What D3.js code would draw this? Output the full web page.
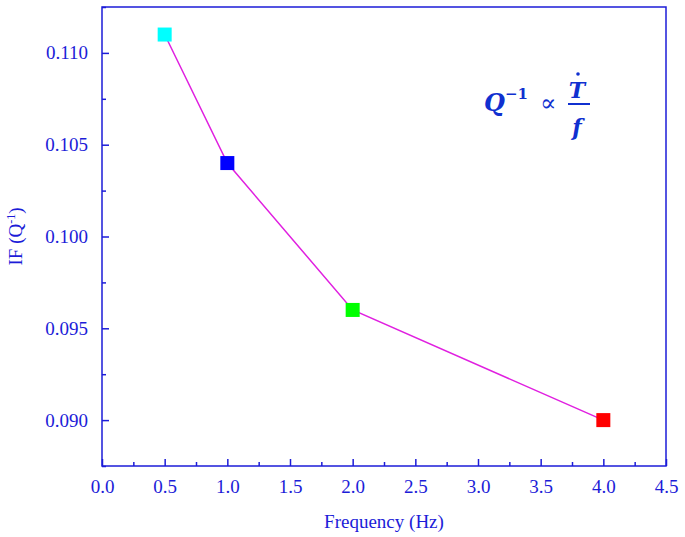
<!DOCTYPE html>
<html><head><meta charset="utf-8">
<script src="https://d3js.org/d3.v7.min.js"></script>
<style>body{margin:0;background:#fff}</style></head>
<body><script>
let freq = [0.5, 1.0, 2.0, 4.0];
let ifVals = [0.111, 0.104, 0.096, 0.090];
let colors = ["#00ffff", "#0000ff", "#00ff00", "#ff0000"];
let xTicks = [0, 0.5, 1, 1.5, 2, 2.5, 3, 3.5, 4, 4.5];
let yTicks = [0.090, 0.095, 0.100, 0.105, 0.110];

let w = 685, h = 537;
let padL = 102, padR = 666, padT = 7, padB = 466;
let blue = "#1c1cd8";
let font = "Liberation Serif, Times New Roman, serif";

let x = d3.scaleLinear().domain([0, 4.5]).range([padL, padR]);
let y = d3.scaleLinear().domain([0.0875, 0.1125]).range([padB, padT]);

let svg = d3.select("body").append("svg").attr("width", w).attr("height", h);

svg.append("rect").attr("x", padL).attr("y", padT)
  .attr("width", padR - padL).attr("height", padB - padT)
  .attr("fill", "none").attr("stroke", blue).attr("stroke-width", 1.5);

// x axis, ticks inward
let gx = svg.append("g").attr("transform", "translate(0," + padB + ")")
  .call(d3.axisBottom(x).tickValues(xTicks).tickFormat(d3.format(".1f")).tickSizeInner(-7).tickSizeOuter(0).tickPadding(14));
let gxm = svg.append("g").attr("transform", "translate(0," + padB + ")")
  .call(d3.axisBottom(x).tickValues(d3.range(0.25, 4.5, 0.5)).tickFormat("").tickSizeInner(-4).tickSizeOuter(0));

let gy = svg.append("g").attr("transform", "translate(" + padL + ",0)")
  .call(d3.axisLeft(y).tickValues(yTicks).tickFormat(d3.format(".3f")).tickSizeInner(-7).tickSizeOuter(0).tickPadding(14));
let gym = svg.append("g").attr("transform", "translate(" + padL + ",0)")
  .call(d3.axisLeft(y).tickValues(d3.range(0.0875, 0.1125, 0.005)).tickFormat("").tickSizeInner(-4).tickSizeOuter(0));

[gx, gxm, gy, gym].forEach(g => {
  g.select(".domain").remove();
  g.selectAll("line").attr("stroke", blue).attr("stroke-width", 1.5);
  g.selectAll("text").attr("fill", blue).style("font-family", font).style("font-size", "19px");
});

svg.append("text").attr("x", (padL + padR) / 2).attr("y", 528).attr("text-anchor", "middle")
  .attr("fill", blue).style("font-family", font).style("font-size", "19px").text("Frequency (Hz)");

let yl = svg.append("text").attr("transform", "translate(22," + (padT + padB) / 2 + ") rotate(-90)")
  .attr("text-anchor", "middle").attr("fill", blue).style("font-family", font).style("font-size", "19px");
yl.append("tspan").text("IF (Q");
yl.append("tspan").attr("dy", -7).style("font-size", "12px").text("-1");
yl.append("tspan").attr("dy", 7).text(")");

svg.append("path").datum(freq.map((f, i) => [f, ifVals[i]]))
  .attr("d", d3.line().x(d => x(d[0])).y(d => y(d[1])))
  .attr("fill", "none").attr("stroke", "#e020e0").attr("stroke-width", 1.5);

svg.selectAll(".pt").data(freq).enter().append("rect")
  .attr("x", d => x(d) - 7).attr("y", (d, i) => y(ifVals[i]) - 7)
  .attr("width", 14).attr("height", 14)
  .attr("fill", (d, i) => colors[i]);

// formula
let fx = svg.append("g").attr("fill", "#1030d0").style("font-family", "Cambria Math, DejaVu Serif, serif")
  .style("font-weight", "bold").style("font-style", "italic");
fx.append("text").attr("x", 484).attr("y", 111).style("font-size", "24px").text("Q");
fx.append("text").attr("x", 505).attr("y", 99).style("font-size", "15px").style("font-style", "normal").text("−1");
fx.append("text").attr("x", 540).attr("y", 111).style("font-size", "24px").style("font-style", "normal").style("font-weight", "normal").text("∝");
fx.append("text").attr("x", 577).attr("y", 98).attr("text-anchor", "middle").style("font-size", "22px").text("T");
fx.append("circle").attr("cx", 578).attr("cy", 74).attr("r", 1.8);
fx.append("line").attr("x1", 568).attr("x2", 590).attr("y1", 104).attr("y2", 104).attr("stroke", "#1030d0").attr("stroke-width", 2);
fx.append("text").attr("x", 577).attr("y", 135).attr("text-anchor", "middle").style("font-size", "22px").text("f");
</script></body></html>
